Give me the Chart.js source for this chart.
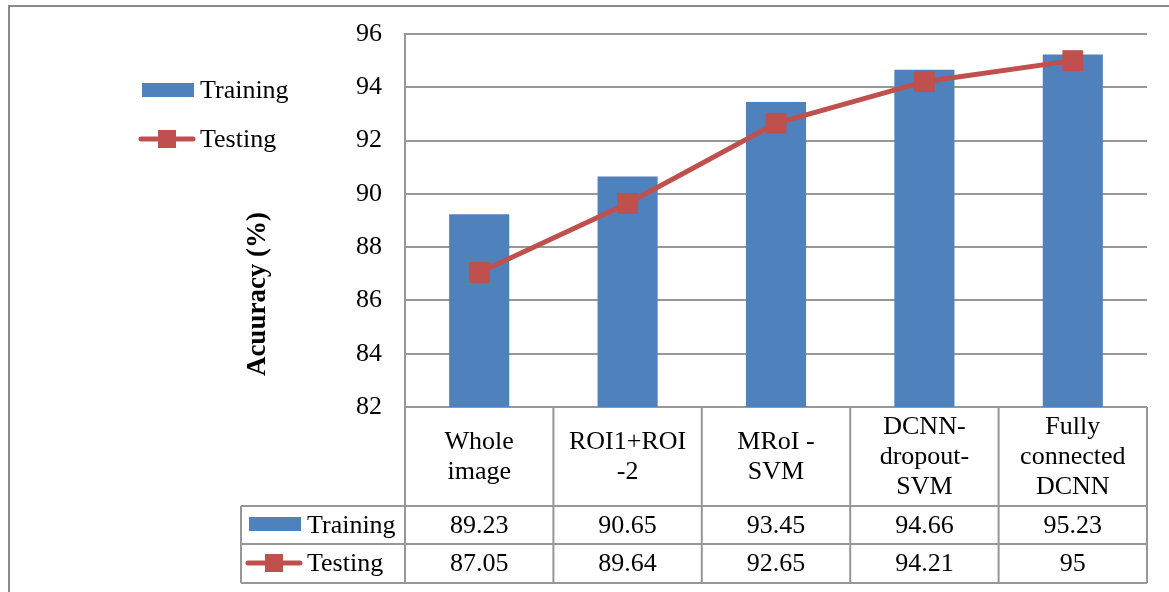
<!DOCTYPE html>
<html>
<head>
<meta charset="utf-8">
<script src="https://cdn.jsdelivr.net/npm/chart.js@4/dist/chart.umd.min.js"></script>
<style>
  html, body { margin: 0; padding: 0; background: #ffffff; }
  #wrap { position: relative; width: 1169px; height: 592px; }
</style>
</head>
<body>
<div id="wrap"><canvas id="chart" width="1169" height="592"></canvas></div>
<script>
// Method names (shown as multi-line headers in the data table)
const categories = [
  ['Whole', 'image'],
  ['ROI1+ROI', '-2'],
  ['MRoI -', 'SVM'],
  ['DCNN-', 'dropout-', 'SVM'],
  ['Fully', 'connected', 'DCNN']
];
const trainingAcc = [89.23, 90.65, 93.45, 94.66, 95.23];
const testingAcc  = [87.05, 89.64, 92.65, 94.21, 95];
const trainingLabels = ['89.23', '90.65', '93.45', '94.66', '95.23'];
const testingLabels  = ['87.05', '89.64', '92.65', '94.21', '95'];
const yTicks = [82, 84, 86, 88, 90, 92, 94, 96];

const BLUE = '#4F81BD';
const RED = '#C0504D';
const GRID = '#979797';
const FONT = '"Liberation Serif", "Times New Roman", serif';
const FS = 26;

// Legend keys, data table, axis title and frame drawn around the chart area
const decorations = {
  id: 'decorations',
  afterDraw(chart) {
    const ctx = chart.ctx;
    const x = chart.scales.x;
    const area = chart.chartArea;
    const n = categories.length;
    const half = (x.getPixelForValue(1) - x.getPixelForValue(0)) / 2;
    const colEdges = [];
    for (let i = 0; i < n; i++) colEdges.push(x.getPixelForValue(i) - half);
    colEdges.push(x.getPixelForValue(n - 1) + half);

    const tableLeft = 241;
    const headTop = area.bottom;
    const row1Top = 506;
    const row2Top = 544;
    const tableBottom = 583;

    ctx.save();
    // outer frame
    ctx.strokeStyle = '#8a8a8a';
    ctx.lineWidth = 2;
    ctx.beginPath();
    ctx.moveTo(9, 592);
    ctx.lineTo(9, 6);
    ctx.lineTo(1169, 6);
    ctx.stroke();

    // data table grid
    ctx.strokeStyle = GRID;
    ctx.lineWidth = 2;
    ctx.beginPath();
    colEdges.forEach(cx => { ctx.moveTo(cx, headTop); ctx.lineTo(cx, tableBottom); });
    ctx.moveTo(tableLeft, row1Top); ctx.lineTo(tableLeft, tableBottom);
    [row1Top, row2Top, tableBottom].forEach(ry => {
      ctx.moveTo(tableLeft, ry); ctx.lineTo(colEdges[n], ry);
    });
    ctx.stroke();

    // header text
    ctx.fillStyle = '#000';
    ctx.font = FS + 'px ' + FONT;
    ctx.textAlign = 'center';
    ctx.textBaseline = 'middle';
    const lineH = 30;
    const headMid = (headTop + row1Top) / 2;
    categories.forEach((lines, i) => {
      const cx = x.getPixelForValue(i);
      const startY = headMid - (lines.length - 1) * lineH / 2 + 1;
      lines.forEach((t, k) => ctx.fillText(t, cx, startY + k * lineH));
    });
    // value rows
    const r1 = (row1Top + row2Top) / 2 + 1;
    const r2 = (row2Top + tableBottom) / 2 + 1;
    trainingLabels.forEach((t, i) => ctx.fillText(t, x.getPixelForValue(i), r1));
    testingLabels.forEach((t, i) => ctx.fillText(t, x.getPixelForValue(i), r2));

    // series keys
    function barKey(x0, y0) {
      ctx.fillStyle = BLUE;
      ctx.fillRect(x0, y0 - 7, 52, 14);
    }
    function lineKey(x0, y0) {
      ctx.strokeStyle = RED;
      ctx.lineWidth = 5;
      ctx.lineCap = 'round';
      ctx.beginPath();
      ctx.moveTo(x0 + 2, y0); ctx.lineTo(x0 + 54, y0);
      ctx.stroke();
      ctx.fillStyle = RED;
      ctx.fillRect(x0 + 19, y0 - 9, 18, 18);
    }
    ctx.textAlign = 'left';
    // legend on the left
    barKey(142, 90);
    lineKey(139, 139);
    ctx.fillStyle = '#000';
    ctx.fillText('Training', 200, 91);
    ctx.fillText('Testing', 200, 140);
    // row keys inside table
    barKey(249, 524);
    lineKey(246, 563);
    ctx.fillStyle = '#000';
    ctx.fillText('Training', 307, r1);
    ctx.fillText('Testing', 307, r2);

    // y axis title
    ctx.translate(258, 294);
    ctx.rotate(-Math.PI / 2);
    ctx.textAlign = 'center';
    ctx.font = 'bold 27px ' + FONT;
    ctx.fillText('Acuuracy (%)', 0, 0);
    ctx.restore();
  }
};

new Chart(document.getElementById('chart'), {
  data: {
    labels: categories.map(c => c.join(' ')),
    datasets: [
      {
        type: 'line',
        label: 'Testing',
        data: testingAcc,
        borderColor: RED,
        backgroundColor: RED,
        borderWidth: 5,
        pointStyle: 'rect',
        pointRadius: 14,
        pointHoverRadius: 14,
        pointBorderWidth: 1,
        pointBackgroundColor: RED,
        pointBorderColor: RED,
        tension: 0,
        order: 0
      },
      {
        type: 'bar',
        label: 'Training',
        data: trainingAcc,
        backgroundColor: BLUE,
        borderWidth: 0,
        categoryPercentage: 1,
        barPercentage: 0.405,
        order: 1
      }
    ]
  },
  options: {
    responsive: false,
    animation: false,
    events: [],
    layout: { padding: { top: 34, right: 22, bottom: 185, left: 0 } },
    plugins: { legend: { display: false }, tooltip: { enabled: false } },
    scales: {
      x: {
        type: 'category',
        offset: true,
        grid: { display: false },
        border: { display: false },
        ticks: { display: false },
        afterFit(scale) { scale.height = 0; scale.paddingLeft = 0; scale.paddingRight = 0; }
      },
      y: {
        min: 82,
        max: 96,
        afterBuildTicks(scale) { scale.ticks = yTicks.map(v => ({ value: v })); },
        afterFit(scale) { scale.width = 405; scale.paddingTop = 0; scale.paddingBottom = 0; },
        grid: { color: GRID, lineWidth: 2, drawTicks: false },
        border: { display: true, color: GRID, width: 2 },
        ticks: {
          padding: 23,
          color: '#000',
          font: { family: FONT, size: FS }
        }
      }
    }
  },
  plugins: [decorations]
});
</script>
</body>
</html>
